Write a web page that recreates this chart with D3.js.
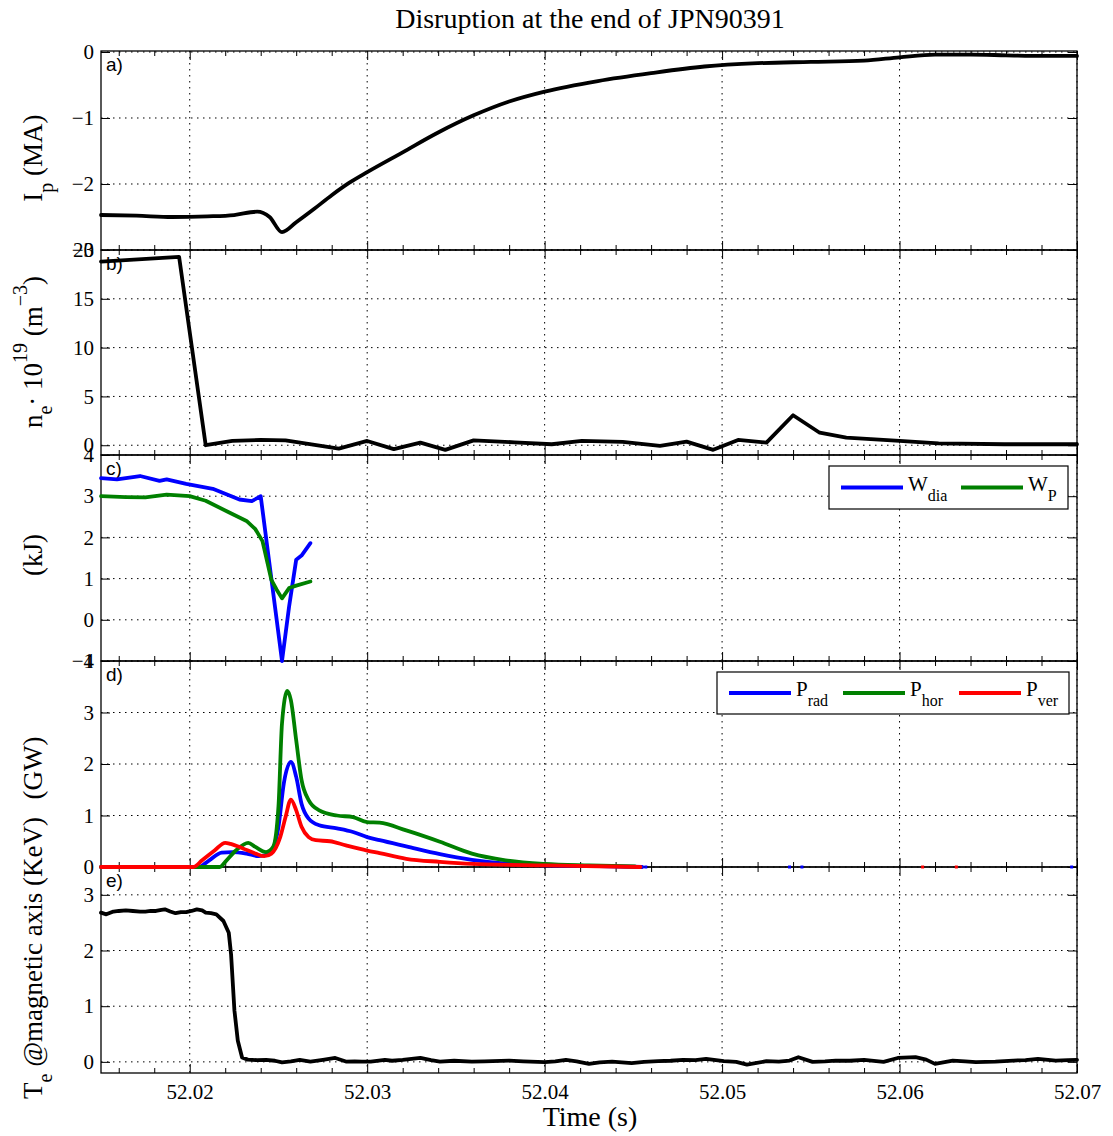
<!DOCTYPE html>
<html>
<head>
<meta charset="utf-8">
<script src="https://cdn.jsdelivr.net/npm/d3@7"></script>
<style>
  body { margin: 0; background: #fff; }
  text { font-family: "Liberation Serif", "Times New Roman", serif; fill: #000; }
</style>
</head>
<body>
<div id="chart"></div>
<script>
// ---- data ----

// a) plasma current (MA)
const ipTime = [52.015, 52.017, 52.019, 52.021, 52.0225, 52.0238, 52.0245, 52.0252, 52.026, 52.027,
  52.028, 52.029, 52.030, 52.032, 52.034, 52.036, 52.038, 52.040, 52.043, 52.046,
  52.049, 52.052, 52.055, 52.058, 52.060, 52.062, 52.064, 52.066, 52.068, 52.070];
const ipVal = [-2.47, -2.48, -2.50, -2.49, -2.47, -2.42, -2.50, -2.73, -2.58, -2.38,
  -2.17, -1.98, -1.82, -1.52, -1.22, -0.96, -0.75, -0.60, -0.44, -0.32,
  -0.22, -0.17, -0.15, -0.13, -0.08, -0.04, -0.04, -0.05, -0.06, -0.06];

// b) electron density (1e19 m^-3)
const neTime = [52.015, 52.0194, 52.0209, 52.0224, 52.024, 52.0254, 52.0284, 52.030, 52.0315, 52.033,
  52.0344, 52.036, 52.0383, 52.0404, 52.0421, 52.0444, 52.0465, 52.048, 52.0495, 52.0509,
  52.0525, 52.054, 52.0555, 52.057, 52.060, 52.0622, 52.0659, 52.070];
const neVal = [18.8, 19.3, 0, 0.44, 0.54, 0.5, -0.34, 0.44, -0.4, 0.27,
  -0.48, 0.5, 0.3, 0.1, 0.44, 0.34, -0.07, 0.37, -0.47, 0.54,
  0.27, 3.07, 1.28, 0.78, 0.44, 0.2, 0.1, 0.1];

// c) stored energy (kJ)
const wdiaTime = [52.015, 52.0159, 52.0172, 52.0183, 52.0187, 52.0198, 52.0213, 52.0228, 52.0235, 52.024,
  52.0252, 52.0256, 52.026, 52.0263, 52.0268];
const wdiaVal = [3.44, 3.41, 3.49, 3.37, 3.41, 3.30, 3.18, 2.92, 2.88, 3.0,
  -1.0, 0.32, 1.46, 1.56, 1.86];
const wpTime = [52.015, 52.0164, 52.0175, 52.0187, 52.020, 52.0209, 52.0222, 52.0232, 52.0237, 52.0241,
  52.0246, 52.0249, 52.0252, 52.0256, 52.026, 52.0268];
const wpVal = [3.0, 2.98, 2.97, 3.04, 3.0, 2.89, 2.61, 2.4, 2.2, 1.91,
  0.97, 0.73, 0.52, 0.77, 0.83, 0.93];

// d) radiated power (GW)
const pradTime = [52.015, 52.0205, 52.0211, 52.0218, 52.0224, 52.0232, 52.0239, 52.0245, 52.025, 52.0253,
  52.0257, 52.026, 52.0263, 52.0267, 52.0273, 52.0283, 52.0292, 52.030, 52.0307, 52.0322,
  52.0341, 52.0359, 52.038, 52.040, 52.0425, 52.0455];
const pradVal = [0, 0, 0.13, 0.28, 0.29, 0.26, 0.21, 0.26, 0.78, 1.62,
  2.04, 1.75, 1.23, 0.94, 0.81, 0.75, 0.68, 0.58, 0.52, 0.40,
  0.25, 0.14, 0.06, 0.03, 0.02, 0];
const phorTime = [52.015, 52.0217, 52.022, 52.0226, 52.0233, 52.0237, 52.0243, 52.0247, 52.025, 52.0252,
  52.0255, 52.0257, 52.026, 52.0263, 52.0267, 52.0273, 52.0283, 52.0292, 52.030, 52.0307,
  52.0322, 52.0341, 52.0359, 52.0378, 52.040, 52.0425, 52.0451];
const phorVal = [0, 0, 0.1, 0.32, 0.47, 0.39, 0.29, 0.39, 1.17, 2.79,
  3.42, 3.24, 2.46, 1.69, 1.30, 1.10, 1.0, 0.97, 0.87, 0.86,
  0.71, 0.49, 0.26, 0.13, 0.06, 0.03, 0.01];
const pverTime = [52.015, 52.0202, 52.0207, 52.0214, 52.022, 52.0223, 52.023, 52.0237, 52.0242, 52.0246,
  52.0251, 52.0254, 52.0257, 52.026, 52.0263, 52.0267, 52.0271, 52.0279, 52.0288, 52.030,
  52.0307, 52.0322, 52.0341, 52.0359, 52.040, 52.0454];
const pverVal = [0, 0, 0.13, 0.32, 0.47, 0.45, 0.36, 0.26, 0.21, 0.26,
  0.58, 0.97, 1.31, 1.1, 0.78, 0.58, 0.52, 0.5, 0.42, 0.32,
  0.27, 0.16, 0.10, 0.06, 0.03, 0];
// isolated samples near zero after the main trace
const pradBlips = [52.0457, 52.0538, 52.0545, 52.0697];
const pverBlips = [52.0613, 52.0632];

// e) central electron temperature (keV)
const teTime = [
  52.0150, 52.0153, 52.0157, 52.0160, 52.0164, 52.0168, 52.0172, 52.0175, 52.0178, 52.0181,
  52.0184, 52.0186, 52.0189, 52.0192, 52.0195, 52.0198, 52.0201, 52.0204, 52.0207, 52.0209,
  52.0212, 52.0215, 52.0219, 52.0222, 52.02233, 52.02252, 52.02271, 52.02295, 52.02327, 52.0238,
  52.0243, 52.0248, 52.0252, 52.0257, 52.0262, 52.0268, 52.0275, 52.0282, 52.0288, 52.0293,
  52.0297, 52.0302, 52.0310, 52.0314, 52.0320, 52.0330, 52.0336, 52.0341, 52.0349, 52.0359,
  52.0366, 52.0380, 52.0388, 52.0400, 52.0406, 52.0412, 52.0418, 52.0425, 52.0431, 52.0438,
  52.0449, 52.0456, 52.0464, 52.0471, 52.0478, 52.0485, 52.0491, 52.0501, 52.0508, 52.0514,
  52.0525, 52.0532, 52.0538, 52.0543, 52.0551, 52.0558, 52.0564, 52.0572, 52.0580, 52.0591,
  52.0599, 52.0609, 52.0615, 52.0620, 52.0630, 52.0637, 52.0643, 52.0654, 52.0664, 52.0671,
  52.0678, 52.0688, 52.0695, 52.0700];
const teVal = [
  2.68, 2.65, 2.70, 2.71, 2.72, 2.71, 2.70, 2.70, 2.71, 2.71,
  2.73, 2.74, 2.70, 2.67, 2.69, 2.69, 2.71, 2.74, 2.72, 2.68,
  2.67, 2.65, 2.53, 2.32, 1.93, 0.92, 0.38, 0.08, 0.04, 0.03,
  0.036, 0.02, -0.01, 0.01, 0.036, 0.006, 0.036, 0.07, 0.006, 0.01,
  0.006, 0.006, 0.036, 0.02, 0.036, 0.07, 0.03, 0.006, 0.02, 0.006,
  0.01, 0.024, 0.01, -0.006, 0.01, 0.036, 0.01, -0.036, -0.01, 0.006,
  -0.024, 0.0, 0.012, 0.02, 0.036, 0.03, 0.054, 0.012, 0.0, -0.048,
  0.012, 0.006, 0.024, 0.084, 0.0, 0.01, 0.024, 0.02, 0.036, 0.0,
  0.07, 0.084, 0.04, -0.036, 0.024, 0.01, -0.006, 0.006, 0.024, 0.03,
  0.054, 0.024, 0.03, 0.036];

// axis ticks
const xMajor = [52.02, 52.03, 52.04, 52.05, 52.06, 52.07];
const xMinor = d3.range(8, 36).map(i => 52 + i * 0.002).filter(t => !xMajor.some(m => Math.abs(m - t) < 1e-6));
const ipTicks = [-3, -2, -1, 0];
const neTicks = [0, 5, 10, 15, 20];
const wTicks = [-1, 0, 1, 2, 3, 4];
const pTicks = [0, 1, 2, 3, 4];
const teTicks = [0, 1, 2, 3];

const zip = (ts, vs) => ts.map((t, i) => [t, vs[i]]);

// ---- layout ----
const width = 1113;
const height = 1136;
const left = 101;
const right = 1077;
const serif = "'Liberation Serif', 'Times New Roman', serif";

const svg = d3.select("#chart")
  .append("svg")
  .attr("width", width)
  .attr("height", height)
  .style("background", "#fff");

const x = d3.scaleLinear().domain([52.015, 52.07]).range([left, right]);

const panels = [
  { label: "a)", top: 51, bottom: 250, domain: [-3, 0.015], ticks: ipTicks,
    series: [{ data: zip(ipTime, ipVal), color: "#000", curve: d3.curveMonotoneX }] },
  { label: "b)", top: 250, bottom: 455, domain: [-1, 20], ticks: neTicks,
    series: [{ data: zip(neTime, neVal), color: "#000", curve: d3.curveLinear }] },
  { label: "c)", top: 455, bottom: 661, domain: [-1, 4], ticks: wTicks,
    series: [
      { data: zip(wdiaTime, wdiaVal), color: "#0000ff", curve: d3.curveLinear },
      { data: zip(wpTime, wpVal), color: "#008000", curve: d3.curveLinear }
    ] },
  { label: "d)", top: 661, bottom: 867, domain: [0, 4], ticks: pTicks,
    series: [
      { data: zip(pradTime, pradVal), color: "#0000ff", curve: d3.curveMonotoneX },
      { data: zip(phorTime, phorVal), color: "#008000", curve: d3.curveMonotoneX },
      { data: zip(pverTime, pverVal), color: "#ff0000", curve: d3.curveMonotoneX }
    ],
    blips: [{ times: pradBlips, color: "#0000ff" }, { times: pverBlips, color: "#ff0000" }] },
  { label: "e)", top: 867, bottom: 1073, domain: [-0.2, 3.5], ticks: teTicks,
    series: [{ data: zip(teTime, teVal), color: "#000", curve: d3.curveLinear }] }
];

const fmt = d => (d < 0 ? "\u2212" : "") + Math.abs(d);

panels.forEach((p, i) => {
  const y = d3.scaleLinear().domain(p.domain).range([p.bottom, p.top]);
  p.y = y;
  const g = svg.append("g");

  // dotted grid
  g.selectAll(".hgrid")
    .data(p.ticks)
    .join("line")
    .attr("x1", left).attr("x2", right)
    .attr("y1", d => y(d)).attr("y2", d => y(d))
    .attr("stroke", "#000").attr("stroke-width", 1)
    .attr("stroke-dasharray", "1.5,4.5");
  g.selectAll(".vgrid")
    .data(xMajor)
    .join("line")
    .attr("x1", d => x(d)).attr("x2", d => x(d))
    .attr("y1", p.top).attr("y2", p.bottom)
    .attr("stroke", "#000").attr("stroke-width", 1)
    .attr("stroke-dasharray", "1.5,4.5");

  // y axes, ticks pointing inward
  g.append("g")
    .attr("transform", `translate(${left},0)`)
    .call(d3.axisLeft(y).tickValues(p.ticks).tickSize(-9).tickPadding(7).tickFormat(fmt));
  g.append("g")
    .attr("transform", `translate(${right},0)`)
    .call(d3.axisRight(y).tickValues(p.ticks).tickSize(-9).tickFormat(""));

  // x ticks at top and bottom of each panel
  g.append("g").attr("transform", `translate(0,${p.top})`)
    .call(d3.axisTop(x).tickValues(xMajor).tickSize(-9).tickFormat(""));
  g.append("g").attr("transform", `translate(0,${p.top})`)
    .call(d3.axisTop(x).tickValues(xMinor).tickSize(-5).tickFormat(""));
  g.append("g").attr("transform", `translate(0,${p.bottom})`)
    .call(d3.axisBottom(x).tickValues(xMajor).tickSize(-9).tickPadding(11)
      .tickFormat(i === panels.length - 1 ? d3.format(".2f") : ""));
  g.append("g").attr("transform", `translate(0,${p.bottom})`)
    .call(d3.axisBottom(x).tickValues(xMinor).tickSize(-5).tickFormat(""));

  g.selectAll(".domain").remove();
  g.selectAll(".tick line").attr("stroke", "#000").attr("stroke-width", 1);
  g.selectAll(".tick text")
    .attr("fill", "#000")
    .style("font-family", serif)
    .style("font-size", "21px");

  // panel letter
  g.append("text")
    .attr("x", left + 5)
    .attr("y", p.top + 20)
    .style("font-family", "'Liberation Sans', Arial, sans-serif")
    .style("font-size", "19px")
    .text(p.label);

  // box
  g.append("rect")
    .attr("x", left).attr("y", p.top)
    .attr("width", right - left).attr("height", p.bottom - p.top)
    .attr("fill", "none").attr("stroke", "#000").attr("stroke-width", 1.3);
});

// data lines drawn after all boxes so they sit on top
panels.forEach(p => {
  p.series.forEach(s => {
    const line = d3.line().x(d => x(d[0])).y(d => p.y(d[1])).curve(s.curve);
    svg.append("path")
      .datum(s.data)
      .attr("d", line)
      .attr("fill", "none")
      .attr("stroke", s.color)
      .attr("stroke-width", 3.8)
      .attr("stroke-linejoin", "round")
      .attr("stroke-linecap", "round");
  });
  (p.blips || []).forEach(b => {
    svg.selectAll(null)
      .data(b.times)
      .join("rect")
      .attr("x", d => x(d) - 1.5)
      .attr("y", p.y(0) - 1.5)
      .attr("width", 3).attr("height", 3)
      .attr("fill", b.color);
  });
});

// ---- legends ----
function legend(x0, y0, w, h, items) {
  const g = svg.append("g");
  g.append("rect")
    .attr("x", x0).attr("y", y0).attr("width", w).attr("height", h)
    .attr("fill", "#fff").attr("stroke", "#000").attr("stroke-width", 1.2);
  items.forEach(it => {
    g.append("line")
      .attr("x1", it.x).attr("x2", it.x + 62)
      .attr("y1", y0 + h / 2).attr("y2", y0 + h / 2)
      .attr("stroke", it.color).attr("stroke-width", 4);
    const t = g.append("text")
      .attr("x", it.x + 67).attr("y", y0 + h / 2 + 3)
      .style("font-size", "21px");
    t.append("tspan").text(it.main);
    t.append("tspan").attr("dy", 10).style("font-size", "16px").text(it.sub);
  });
}

legend(829, 466, 239, 43, [
  { x: 841, color: "#0000ff", main: "W", sub: "dia" },
  { x: 961, color: "#008000", main: "W", sub: "P" }
]);
legend(717, 672, 352, 42, [
  { x: 729, color: "#0000ff", main: "P", sub: "rad" },
  { x: 843, color: "#008000", main: "P", sub: "hor" },
  { x: 959, color: "#ff0000", main: "P", sub: "ver" }
]);

// ---- titles and axis labels ----
svg.append("text")
  .attr("x", 590).attr("y", 28)
  .attr("text-anchor", "middle")
  .style("font-size", "28px")
  .text("Disruption at the end of JPN90391");

svg.append("text")
  .attr("x", 590).attr("y", 1126)
  .attr("text-anchor", "middle")
  .style("font-size", "28px")
  .text("Time (s)");

function yLabel(cy, parts) {
  const t = svg.append("text")
    .attr("transform", `translate(42,${cy}) rotate(-90)`)
    .attr("text-anchor", "middle")
    .style("font-size", "27px")
    .style("white-space", "pre");
  parts.forEach(pt => {
    const s = t.append("tspan").text(pt.text);
    if (pt.dy) s.attr("dy", pt.dy);
    if (pt.size) s.style("font-size", pt.size + "px");
  });
}

yLabel(158, [{ text: "I" }, { text: "p", dy: 11, size: 20 }, { text: " (MA)", dy: -11 }]);
yLabel(352, [
  { text: "n" }, { text: "e", dy: 10, size: 20 }, { text: "\u00b7 10", dy: -10 },
  { text: "19", dy: -15, size: 20 }, { text: " (m", dy: 15 },
  { text: "\u22123", dy: -15, size: 20 }, { text: ")", dy: 15 }
]);
yLabel(555, [{ text: "(kJ)" }]);
yLabel(768, [{ text: "(GW)" }]);
yLabel(958, [{ text: "T" }, { text: "e", dy: 10, size: 20 }, { text: " @magnetic axis (KeV)", dy: -10 }]);
</script>
</body>
</html>
